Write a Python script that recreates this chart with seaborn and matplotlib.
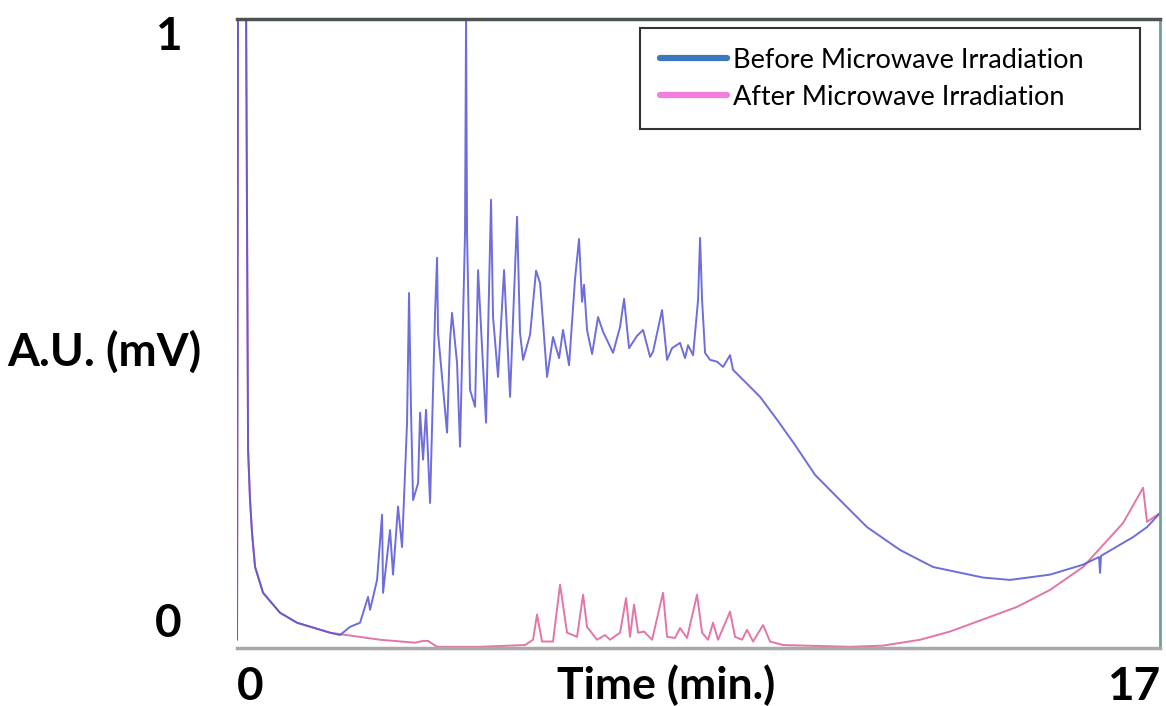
import numpy as np
import pandas as pd
import seaborn as sns
import matplotlib
matplotlib.use("Agg")
import matplotlib.pyplot as plt
from matplotlib.lines import Line2D

# ---------------- data (time in min, signal in A.U.) ----------------
start_t = [0.000, 0.018, 0.166, 0.203, 0.239, 0.276, 0.332, 0.479, 0.792, 1.105, 1.713]
start_y = [-0.034, 1.05, 1.05, 0.290, 0.204, 0.148, 0.090, 0.046, 0.012, -0.005, -0.022]

before_t = [1.897, 2.081, 2.265, 2.413, 2.450, 2.579, 2.671, 2.689, 2.818, 2.873,
            2.965, 3.039, 3.131, 3.168, 3.205, 3.242, 3.334, 3.371, 3.426, 3.481,
            3.555, 3.647, 3.684, 3.702, 3.868, 3.923, 3.960, 4.052, 4.107, 4.199,
            4.218, 4.236, 4.291, 4.384, 4.439, 4.512, 4.586, 4.678, 4.715, 4.807,
            4.918, 5.028, 5.157, 5.212, 5.268, 5.397, 5.507, 5.581, 5.710, 5.820,
            5.931, 6.004, 6.115, 6.225, 6.299, 6.354, 6.391, 6.446, 6.539, 6.649,
            6.741, 6.925, 7.054, 7.128, 7.220, 7.367, 7.478, 7.607, 7.662, 7.828,
            7.920, 8.012, 8.159, 8.251, 8.307, 8.399, 8.491, 8.528, 8.565, 8.620,
            8.712, 8.841, 8.951, 9.080, 9.135, 9.320, 9.633, 9.946, 10.277, 10.646,
            11.106, 11.603, 12.211, 12.819, 13.740, 14.237, 14.974, 15.582, 15.876, 15.895,
            15.913, 16.503, 16.760, 17.000]
before_y = [-0.026, -0.012, -0.005, 0.039, 0.017, 0.068, 0.179, 0.046, 0.153, 0.077,
            0.193, 0.124, 0.336, 0.557, 0.353, 0.204, 0.233, 0.353, 0.273, 0.358,
            0.199, 0.523, 0.617, 0.489, 0.319, 0.477, 0.523, 0.438, 0.295, 0.659,
            1.030, 0.659, 0.392, 0.363, 0.596, 0.465, 0.336, 0.716, 0.516, 0.414,
            0.596, 0.380, 0.687, 0.489, 0.443, 0.486, 0.595, 0.574, 0.414, 0.482,
            0.446, 0.494, 0.434, 0.581, 0.649, 0.542, 0.571, 0.494, 0.453, 0.516,
            0.491, 0.455, 0.499, 0.547, 0.463, 0.484, 0.494, 0.448, 0.457, 0.528,
            0.443, 0.463, 0.472, 0.446, 0.468, 0.451, 0.545, 0.651, 0.545, 0.455,
            0.443, 0.440, 0.431, 0.451, 0.426, 0.409, 0.380, 0.341, 0.298, 0.247,
            0.204, 0.158, 0.119, 0.090, 0.072, 0.068, 0.077, 0.094, 0.107, 0.080,
            0.109, 0.141, 0.158, 0.182]

after_t = [2.634, 3.278, 3.426, 3.518, 3.684, 4.476, 5.304, 5.452, 5.525, 5.617,
           5.820, 5.949, 6.078, 6.262, 6.373, 6.446, 6.631, 6.778, 6.870, 7.054,
           7.165, 7.238, 7.312, 7.386, 7.496, 7.644, 7.846, 7.920, 8.067, 8.159,
           8.288, 8.472, 8.565, 8.675, 8.767, 8.859, 9.080, 9.172, 9.301, 9.393,
           9.504, 9.688, 9.817, 10.056, 11.290, 11.898, 12.580, 13.132, 14.366, 14.974,
           15.582, 16.319, 16.687, 16.760, 17.000]
after_y = [-0.034, -0.039, -0.036, -0.036, -0.046, -0.046, -0.043, -0.034, 0.009, -0.037,
           -0.037, 0.060, -0.022, -0.029, 0.043, -0.012, -0.034, -0.026, -0.034, -0.022,
           0.037, -0.029, 0.026, -0.022, -0.020, -0.034, 0.046, -0.029, -0.031, -0.014,
           -0.031, 0.043, -0.022, -0.034, -0.005, -0.034, 0.014, -0.029, -0.034, -0.017,
           -0.037, -0.009, -0.037, -0.043, -0.046, -0.044, -0.034, -0.020, 0.022, 0.051,
           0.090, 0.165, 0.225, 0.167, 0.182]

series_labels = ["Before Microwave Irradiation", "After Microwave Irradiation"]
x_ticks = [0, 17]
x_tick_labels = ["0", "17"]
y_ticks = [0, 1]
y_tick_labels = ["0", "1"]

# ---------------- build frames ----------------
df_before = pd.DataFrame({"t": start_t + before_t, "y": start_y + before_y})
df_after = pd.DataFrame({"t": start_t + after_t, "y": start_y + after_y})

sns.set_theme(style="white")
plt.rcParams["font.family"] = ["Lato", "DejaVu Sans"]
plt.rcParams["text.color"] = "black"
plt.rcParams["xtick.color"] = "black"
plt.rcParams["ytick.color"] = "black"
plt.rcParams["axes.labelcolor"] = "black"

fig = plt.figure(figsize=(11.66, 7.06), dpi=100)
ax = fig.add_axes([0.2033, 0.0822, 0.7916, 0.8909])

sns.lineplot(data=df_after, x="t", y="y", sort=False, estimator=None,
             color="#e0669e", lw=1.4, alpha=0.9, ax=ax)
sns.lineplot(data=df_before, x="t", y="y", sort=False, estimator=None,
             color="#5454d6", lw=1.4, alpha=0.85, ax=ax)

ax.set_xlim(0, 17)
ax.set_ylim(-0.048, 1.024)

ax.set_xticks(x_ticks)
ax.set_xticklabels(x_tick_labels, fontsize=33, fontweight="bold", color="black")
xl = ax.get_xticklabels()
xl[0].set_ha("left")
xl[1].set_ha("right")
ax.set_yticks(y_ticks)
ax.set_yticklabels(y_tick_labels, fontsize=33, fontweight="bold", color="black")
ax.tick_params(axis="x", length=0, pad=13)
ax.tick_params(axis="y", length=0, pad=40)

ax.set_xlabel("Time (min.)", fontsize=32, fontweight="bold", va="center", color="black")
ax.xaxis.set_label_coords(0.4648, -0.0590)
ax.set_ylabel("A.U. (mV)", fontsize=33, fontweight="bold", rotation=0,
              ha="center", va="center", color="black")
ax.yaxis.set_label_coords(-0.1441, 0.4706)

for side, col, lw in [("top", "#4d5252", 2.5), ("right", "#6f9f9c", 2.0),
                      ("bottom", "#a9a9a9", 2.5)]:
    ax.spines[side].set_color(col)
    ax.spines[side].set_linewidth(lw)
ax.spines["left"].set_visible(False)

handles = [Line2D([0], [0], color="#3b78bd", lw=4.5),
           Line2D([0], [0], color="#f27fe0", lw=4.5)]
leg = fig.legend(handles, series_labels, loc="upper left",
                 bbox_to_anchor=(0.5489, 0.8286, 0.4288, 0.1317),
                 mode="expand", borderaxespad=0, fontsize=19.5,
                 frameon=True, fancybox=False, handlelength=2.5,
                 handletextpad=0.2, labelspacing=0.45, borderpad=0.72)
leg.get_frame().set_edgecolor("black")
leg.get_frame().set_linewidth(1.5)
for txt in leg.get_texts():
    txt.set_color("black")

fig.savefig("out.png", dpi=100)
